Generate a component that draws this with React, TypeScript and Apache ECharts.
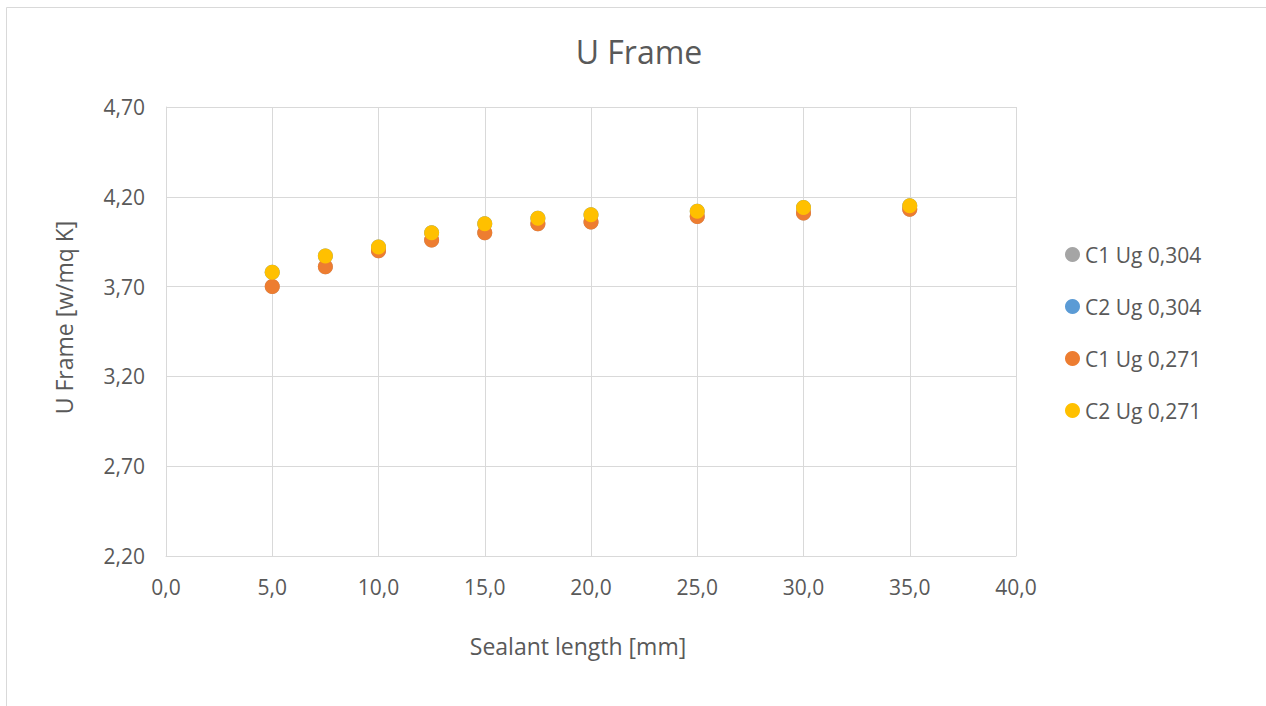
import React, { useEffect, useRef } from "react";
import * as echarts from "echarts";

const sealantLength = [5, 7.5, 10, 12.5, 15, 17.5, 20, 25, 30, 35];
const c1Ug304 = [3.70, 3.81, 3.90, 3.96, 4.00, 4.05, 4.06, 4.09, 4.11, 4.13];
const c2Ug304 = [3.78, 3.87, 3.92, 4.00, 4.05, 4.08, 4.10, 4.12, 4.14, 4.15];
const c1Ug271 = [3.70, 3.81, 3.90, 3.96, 4.00, 4.05, 4.06, 4.09, 4.11, 4.13];
const c2Ug271 = [3.78, 3.87, 3.92, 4.00, 4.05, 4.08, 4.10, 4.12, 4.14, 4.15];
const seriesNames = ["C1 Ug 0,304", "C2 Ug 0,304", "C1 Ug 0,271", "C2 Ug 0,271"];
const seriesColors = ["#A5A5A5", "#5B9BD5", "#ED7D31", "#FFC000"];
const seriesValues = [c1Ug304, c2Ug304, c1Ug271, c2Ug271];

const FONT = "Open Sans";
const TXT = "#595959";

export default function App() {
  const ref = useRef<HTMLDivElement>(null);
  useEffect(() => {
    document.body.style.margin = "0";
    const chart = echarts.init(ref.current!, null, { renderer: "svg" });
    chart.setOption({
      animation: false,
      backgroundColor: "#fff",
      textStyle: { fontFamily: FONT },
      title: {
        text: "U Frame",
        left: 634,
        textAlign: "center",
        top: 30,
        textStyle: { fontFamily: FONT, fontSize: 32, fontWeight: "normal", color: TXT },
      },
      graphic: [
        {
          type: "rect",
          shape: { x: 6.5, y: 7.5, width: 1400, height: 800 },
          style: { fill: "none", stroke: "#D9D9D9", lineWidth: 1 },
          silent: true,
        },
      ],
      legend: {
        orient: "vertical",
        left: 1060,
        top: 239,
        itemWidth: 15,
        itemHeight: 15,
        itemGap: 31,
        icon: "circle",
        textStyle: { fontFamily: FONT, fontSize: 21, color: TXT },
        data: seriesNames,
      },
      grid: { left: 166, top: 107, width: 850, height: 449, containLabel: false },
      xAxis: {
        type: "value",
        min: 0,
        max: 40,
        interval: 5,
        name: "Sealant length [mm]",
        nameLocation: "middle",
        nameGap: 78,
        nameTextStyle: { fontFamily: FONT, fontSize: 23, color: TXT, padding: [0, 26, 0, 0] },
        axisLine: { show: true, lineStyle: { color: "#D9D9D9", width: 1 } },
        axisTick: { show: false },
        axisLabel: {
          fontFamily: FONT,
          fontSize: 21,
          color: TXT,
          margin: 20,
          formatter: (v: number) => v.toFixed(1).replace(".", ","),
        },
        splitLine: { show: true, lineStyle: { color: "#D9D9D9", width: 1 } },
      },
      yAxis: {
        type: "value",
        min: 2.2,
        max: 4.7,
        interval: 0.5,
        name: "U Frame [w/mq K]",
        nameLocation: "middle",
        nameGap: 91,
        nameTextStyle: { fontFamily: FONT, fontSize: 23, color: TXT, padding: [0, 0, 0, 28] },
        axisLine: { show: true, lineStyle: { color: "#D9D9D9", width: 1 } },
        axisTick: { show: false },
        axisLabel: {
          fontFamily: FONT,
          fontSize: 21,
          color: TXT,
          margin: 21,
          formatter: (v: number) => v.toFixed(2).replace(".", ","),
        },
        splitLine: { show: true, lineStyle: { color: "#D9D9D9", width: 1 } },
      },
      series: seriesNames.map((name, i) => ({
        name,
        type: "scatter",
        symbol: "circle",
        symbolSize: 15,
        itemStyle: { color: seriesColors[i], opacity: 1 },
        data: sealantLength.map((x, j) => [x, seriesValues[i][j]]),
      })),
    });
    return () => chart.dispose();
  }, []);
  return <div ref={ref} style={{ width: 1266, height: 706 }} />;
}
